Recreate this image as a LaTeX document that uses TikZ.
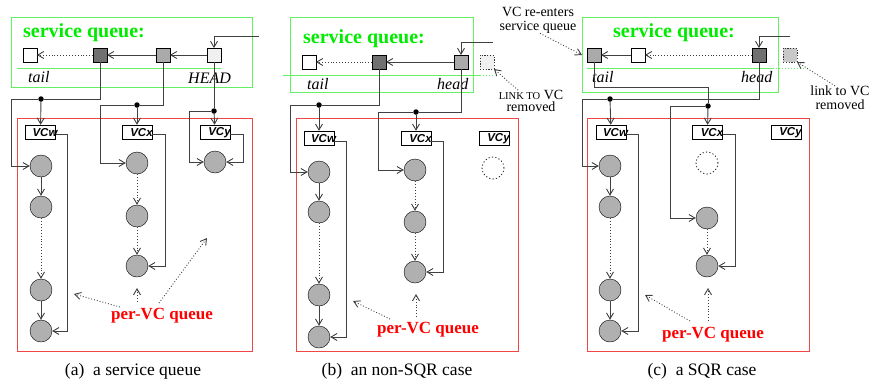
\documentclass[tikz,border=0pt]{standalone}
\usepackage{fontspec}
\setmainfont{Liberation Serif}
\setsansfont{Liberation Sans}
\usepackage{tikz}
\usetikzlibrary{arrows.meta,positioning,calc}
\pgfdeclarelayer{bg}
\pgfsetlayers{bg,main}
\usepackage{color}
\definecolor{sqgreen}{RGB}{0,235,0}
\definecolor{boxgreen}{RGB}{100,240,100}
\definecolor{pqred}{RGB}{255,0,0}
\definecolor{boxred}{RGB}{240,70,70}
\definecolor{cellgray}{RGB}{176,176,176}
\definecolor{darksq}{RGB}{112,112,112}
\definecolor{midsq}{RGB}{170,170,170}
\definecolor{lightsq}{RGB}{240,240,240}
\definecolor{ghostsq}{RGB}{200,200,200}

\tikzset{
  sq/.style={draw, minimum size=13.5pt, inner sep=0pt},
  ghost/.style={draw=black!80, dash pattern=on 1.2pt off 1.5pt, minimum size=13.5pt, inner sep=0pt},
  cell/.style={circle, draw, fill=cellgray, minimum size=22pt, inner sep=0pt},
  nocell/.style={circle, draw=black!90, line width=0.8pt, dash pattern=on 1.2pt off 2.2pt, minimum size=22pt, inner sep=0pt},
  vcbox/.style={draw, minimum width=30pt, minimum height=14pt, inner sep=0pt},
  vclab/.style={font=\sffamily\bfseries\itshape\fontsize{11.5}{12}\selectfont, inner sep=0pt},
  dot/.style={circle, fill, inner sep=0pt, minimum size=5.5pt},
  lnk/.style={draw=black!75, line width=0.9pt},
  ptr/.style={lnk, -{Straight Barb[length=6pt,width=7pt]}},
  pqptr/.style={ptr, dotted},
  qbox/.style={draw=boxgreen, line width=1pt},
  vbox/.style={draw=boxred, line width=1pt},
  qline/.style={draw=boxgreen, line width=1pt},
  qtitle/.style={anchor=base west, text=sqgreen, inner sep=0pt, font=\bfseries\fontsize{20}{20}\selectfont},
  qlab/.style={anchor=base west, inner sep=0pt, font=\itshape\fontsize{16}{16}\selectfont},
  pqlab/.style={anchor=base, text=pqred, inner sep=0pt, font=\bfseries\fontsize{17}{17}\selectfont},
  note/.style={align=center, inner sep=0pt, font=\fontsize{14}{14}\selectfont},
  caption/.style={anchor=base, inner sep=0pt, font=\fontsize{17.5}{18}\selectfont}
}

\begin{document}
\begin{tikzpicture}[x=1pt, y=-1pt]
    \useasboundingbox (0,0) rectangle (871,381);

    % (a) a service queue
    \node [qtitle] (atitle) at (23,37) {service queue:};
    \node [sq, fill=white] (a1) at (30,55) {};
    \node [sq, fill=darksq] (a2) at (100,55) {};
    \node [sq, fill=midsq] (a3) at (163,55) {};
    \node [sq, fill=lightsq] (a4) at (214,55) {};
    \node [qlab] (atail) at (28,82) {tail};
    \node [qlab] (ahead) at (188,83) {HEAD};
    \coordinate (ain) at (259,36);
    \draw [ptr] (ain) -| (a4);
    \draw [ptr] (a4) -- (a3);
    \draw [ptr] (a3) -- (a2);
    \draw [ptr, dotted] (a2) -- (a1);

    \node [vcbox] (aw) at (40.5,132) {};
    \node [vcbox] (ax) at (137,132) {};
    \node [vcbox] (ay) at (215,132) {};
    \node [vclab] at ([xshift=4.5pt,yshift=-1pt]aw.center) {VCw};
    \node [vclab] at ([xshift=4.5pt,yshift=-1pt]ax.center) {VCx};
    \node [vclab] at ([xshift=4.5pt,yshift=-1pt]ay.center) {VCy};
    \node [cell] (aw1) at (41,166) {};
    \node [cell] (aw2) at (41,207) {};
    \node [cell] (aw3) at (41,290) {};
    \node [cell] (aw4) at (41,331) {};
    \node [cell] (ax1) at (137,163) {};
    \node [cell] (ax2) at (137,216) {};
    \node [cell] (ax3) at (137,266) {};
    \node [cell] (ay1) at (215,162) {};
    \node [dot] (adw) at (41,99) {};
    \node [dot] (adx) at (137,105) {};
    \node [dot] (ady) at (214,111) {};

    \draw [ptr] (a2) |- (adw) -- ++(-30,0) |- (aw1);
    \draw [ptr] (adw) -- (aw);
    \draw [ptr] (a3) |- (adx) -- ++(-37,0) |- (ax1);
    \draw [ptr] (adx) -- (ax);
    \draw [lnk] (a4) -- (ady);
    \draw [ptr] (ady) -- ++(-25,0) |- (ay1);
    \draw [ptr] (ady) -- (ay);
    \draw [ptr] (aw1) -- (aw2);
    \draw [ptr, dotted] (aw2) -- (aw3);
    \draw [ptr] (aw3) -- (aw4);
    \draw [ptr, dotted] (ax1) -- (ax2);
    \draw [ptr, dotted] (ax2) -- (ax3);
    \draw [ptr] ([yshift=-2pt]aw.east) -- ++(12,0) |- (aw4);
    \draw [ptr] ([yshift=-2pt]ax.east) -- ++(13,0) |- (ax3);
    \draw [ptr] ([yshift=-2pt]ay.east) -- ++(13,0) |- (ay1);

    \node [pqlab] (apq) at (162,319) {per-VC queue};
    \coordinate (ap1) at (74,294);
    \coordinate (ap2) at (137,288);
    \coordinate (ap3) at (207,238);
    \draw [pqptr] ([xshift=-42pt,yshift=12pt]apq.base) -- (ap1);
    \draw [pqptr] ([xshift=-25pt,yshift=17pt]apq.base) -- (ap2);
    \draw [pqptr] ([xshift=-3pt,yshift=16pt]apq.base) -- (ap3);

    % (b) an non-SQR case
    \node [qtitle] (btitle) at (303,43) {service queue:};
    \node [sq, fill=white] (b1) at (309,62) {};
    \node [sq, fill=darksq] (b2) at (379,62) {};
    \node [sq, fill=midsq] (b3) at (461,62) {};
    \node [ghost, fill=lightsq] (b4) at (487,62) {};
    \node [qlab] (btail) at (307,89) {tail};
    \node [qlab] (bhead) at (437,89) {head};
    \coordinate (bin) at (493,42);
    \draw [ptr] (bin) -| (b3);
    \draw [ptr] (b3) -- (b2);
    \draw [ptr, dotted] (b2) -- (b1);

    \node [vcbox] (bw) at (319,138) {};
    \node [vcbox] (bx) at (416,138) {};
    \node [vcbox] (by) at (494,138) {};
    \node [vclab] at ([xshift=4.5pt,yshift=-1pt]bw.center) {VCw};
    \node [vclab] at ([xshift=4.5pt,yshift=-1pt]bx.center) {VCx};
    \node [vclab] at ([xshift=4.5pt,yshift=-1pt]by.center) {VCy};
    \node [cell] (bw1) at (319,172) {};
    \node [cell] (bw2) at (319,212) {};
    \node [cell] (bw3) at (319,295) {};
    \node [cell] (bw4) at (319,337) {};
    \node [cell] (bx1) at (415,170) {};
    \node [cell] (bx2) at (415,222) {};
    \node [cell] (bx3) at (415,272) {};
    \node [nocell] (by1) at (493,168) {};
    \node [dot] (bdw) at (319,105) {};
    \node [dot] (bdx) at (416,112) {};

    \draw [ptr] (b2) |- (bdw) -- ++(-29,0) |- (bw1);
    \draw [ptr] (bdw) -- (bw);
    \draw [ptr] (b3) |- (bdx) -- ++(-38,0) |- (bx1);
    \draw [ptr] (bdx) -- (bx);
    \draw [ptr] (bw1) -- (bw2);
    \draw [ptr, dotted] (bw2) -- (bw3);
    \draw [ptr] (bw3) -- (bw4);
    \draw [ptr, dotted] (bx1) -- (bx2);
    \draw [ptr, dotted] (bx2) -- (bx3);
    \draw [ptr] ([yshift=-3pt]bw.east) -- ++(12,0) |- (bw4);
    \draw [ptr] ([yshift=-3pt]bx.east) -- ++(12,0) |- (bx3);

    \node [pqlab] (bpq) at (428,333) {per-VC queue};
    \coordinate (bp1) at (353,301);
    \coordinate (bp2) at (416,294);
    \draw [pqptr] ([xshift=-38pt,yshift=14pt]bpq.base) -- (bp1);
    \draw [pqptr] ([xshift=-12pt,yshift=16pt]bpq.base) -- (bp2);

    \node [note] (bgone) at (531,101) {{\fontsize{10.5}{12}\selectfont LINK TO} VC\\[-2pt]removed};
    \draw [pqptr] ([xshift=-13pt]bgone.north) -- (b4.south east);

    % (c) a SQR case
    \node [qtitle] (ctitle) at (613,37) {service queue:};
    \node [sq, fill=midsq] (c1) at (594,55) {};
    \node [sq, fill=white] (c2) at (638,55) {};
    \node [sq, fill=darksq] (c3) at (759,55) {};
    \node [ghost, fill=ghostsq] (c4) at (790,55) {};
    \node [qlab] (ctail) at (592,82) {tail};
    \node [qlab] (chead) at (741,82) {head};
    \coordinate (cin) at (790,36);
    \draw [ptr] (cin) -| (c3);
    \draw [ptr] (c2) -- (c1);
    \draw [ptr, dotted] (c3) -- (c2);

    \node [vcbox] (cw) at (611,132) {};
    \node [vcbox] (cx) at (707.5,132) {};
    \node [vcbox] (cy) at (786,132) {};
    \node [vclab] at ([xshift=4.5pt,yshift=-1pt]cw.center) {VCw};
    \node [vclab] at ([xshift=4.5pt,yshift=-1pt]cx.center) {VCx};
    \node [vclab] at ([xshift=4.5pt,yshift=-1pt]cy.center) {VCy};
    \node [cell] (cw1) at (610,166) {};
    \node [cell] (cw2) at (610,207) {};
    \node [cell] (cw3) at (610,290) {};
    \node [cell] (cw4) at (610,331) {};
    \node [nocell] (cx1) at (707,163) {};
    \node [cell] (cx2) at (707,218) {};
    \node [cell] (cx3) at (707,266) {};
    \node [dot] (cdw) at (610,99) {};
    \node [dot] (cdx) at (708,106) {};

    \draw [ptr] (c3) |- (cdw) -- ++(-28,0) |- (cw1);
    \draw [ptr] (cdw) -- (cw);
    \draw [lnk] (c1) |- ($(cdx)+(0,-19)$) -- (cdx);
    \draw [ptr] (cdx) -- (cx);
    \draw [ptr] (cdx) -- ++(-38,0) |- (cx2);
    \draw [ptr] (cw1) -- (cw2);
    \draw [ptr, dotted] (cw2) -- (cw3);
    \draw [ptr] (cw3) -- (cw4);
    \draw [ptr, dotted] (cx2) -- (cx3);
    \draw [ptr] ([yshift=-2pt]cw.east) -- ++(12,0) |- (cw4);
    \draw [ptr] ([yshift=-2pt]cx.east) -- ++(13,0) |- (cx3);

    \node [pqlab] (cpq) at (713,338) {per-VC queue};
    \coordinate (cp1) at (645,295);
    \coordinate (cp2) at (708,288);
    \draw [pqptr] ([xshift=-23pt,yshift=17pt]cpq.base) -- (cp1);
    \draw [pqptr] ([xshift=-5pt,yshift=17pt]cpq.base) -- (cp2);

    \node [note] (cgone) at (840,98) {link to VC\\removed};
    \draw [pqptr] ([xshift=-5pt]cgone.north) -- (c4.south east);
    \node [note] (cback) at (538,20) {VC re-enters\\service queue};
    \draw [pqptr] ([xshift=2pt]cback.south) -- ([xshift=-5pt]c1.west);

    % captions
    \node [caption] (capa) at (133,375) {(a)~ a service queue};
    \node [caption] (capb) at (397,375) {(b)~ an non-SQR case};
    \node [caption] (capc) at (702,375) {(c)~ a SQR case};

    \begin{pgfonlayer}{bg}    % frames behind the queues
        \draw [qbox] (11,17) rectangle (252,87);
        \draw [qline] (17,68) -- (221,68);
        \draw [vbox] (17,118) rectangle (252,351);
        \draw [qbox] (290,17) rectangle (473,92);
        \draw [qline] (283,75) -- (480,75);
        \draw [qline, dotted] (480,75) -- (493,75);
        \draw [vbox] (296,118) rectangle (518,351);
        \draw [qbox] (582,17) rectangle (778,92);
        \draw [qline] (587,68) -- (773,68);
        \draw [qline, dotted] (773,68) -- (805,68);
        \draw [vbox] (587,118) rectangle (809,351);
    \end{pgfonlayer}
\end{tikzpicture}
\end{document}
